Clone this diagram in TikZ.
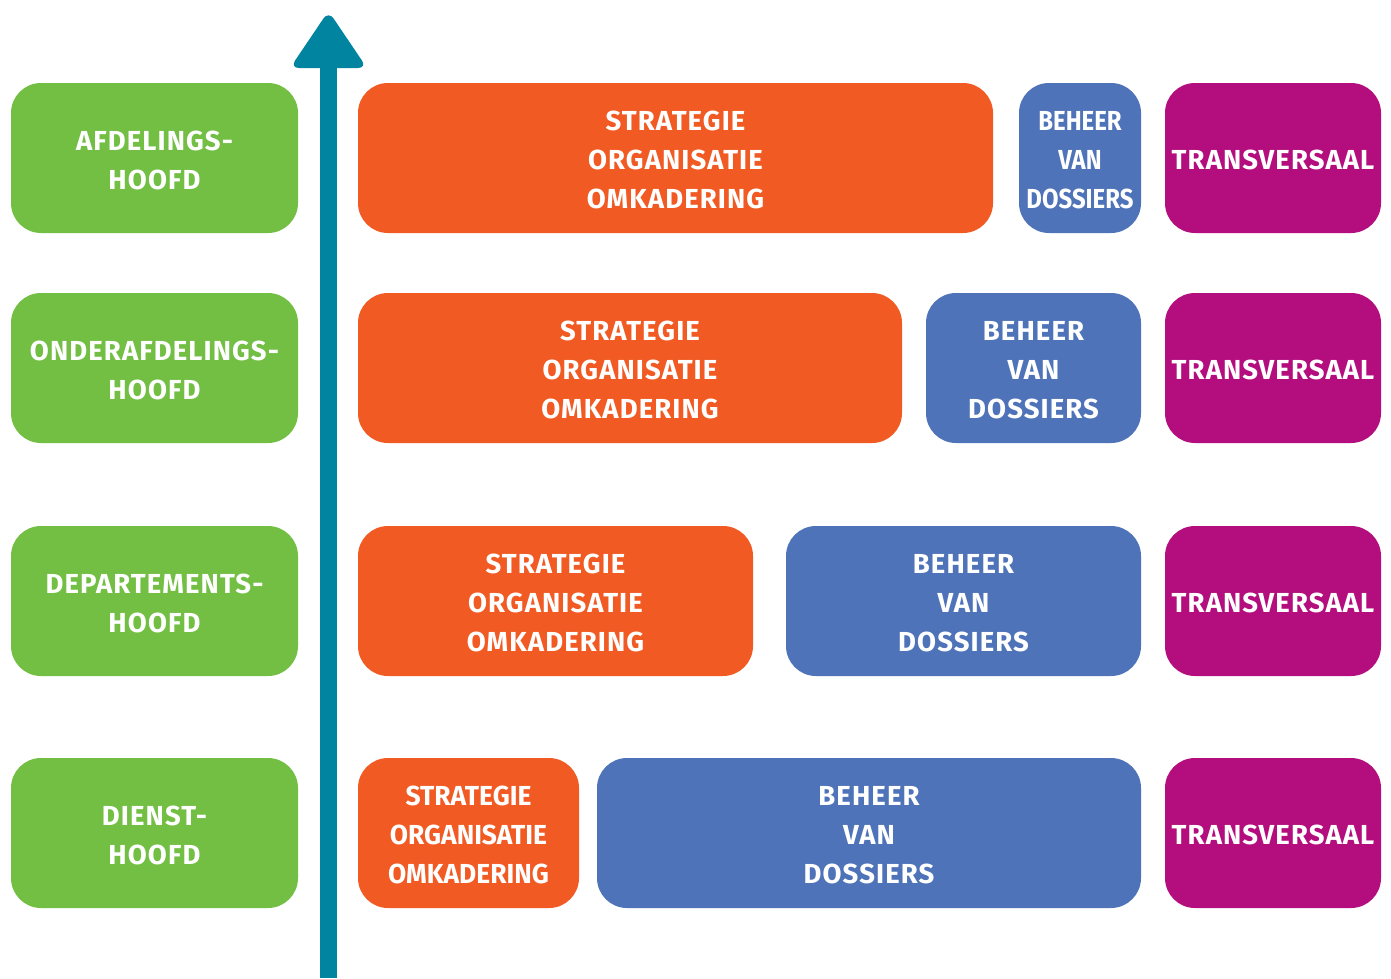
\documentclass[tikz,border=0pt]{standalone}
\usepackage{fontspec}
\setmainfont{Fira Sans}[LetterSpace=4]
\newfontfamily\condfont{Fira Sans}[LetterSpace=0]
\definecolor{cgreen}{HTML}{72BF44}
\definecolor{corange}{HTML}{F15A22}
\definecolor{cblue}{HTML}{4E73B8}
\definecolor{cpurple}{HTML}{B30D7E}
\definecolor{cteal}{HTML}{00849F}
\tikzset{
  tile/.style={rounded corners=30pt, inner sep=0pt},
  tiletext/.style={inner sep=0pt, align=center, text=white,
    font=\bfseries\fontsize{27.5}{39}\selectfont},
}
\newcommand{\tileat}[7]{%
  \node[tile, fill=#6, minimum width={#4-#2}, minimum height={#5-#3}]
    (#1) at ({(#2+#4)/2},{(#3+#5)/2}) {};
  \node[tiletext] (#1t) at ([yshift=-2pt]#1.center) {#7};}
\newcommand{\cond}[1]{\scalebox{0.87}[1]{\condfont #1}}
\newcommand{\semicond}[1]{\scalebox{0.96}[1]{\condfont #1}}
\begin{document}
\begin{tikzpicture}[x=1pt,y=-1pt]
\useasboundingbox (0,0) rectangle (1391,978);
% arrow
\coordinate (abot) at (328.5,978);
\coordinate (atop) at (328.5,60);
\draw[cteal, line width=17pt] (abot) -- (atop);
\fill[cteal, rounded corners=9pt] (328.5,11) -- (367,68) -- (290,68) -- cycle;
% green
\tileat{g1}{11}{83}{298}{233}{cgreen}{AFDELINGS-\\HOOFD}
\tileat{g2}{11}{293}{298}{443}{cgreen}{ONDERAFDELINGS-\\HOOFD}
\tileat{g3}{11}{526}{298}{676}{cgreen}{DEPARTEMENTS-\\HOOFD}
\tileat{g4}{11}{758}{298}{908}{cgreen}{DIENST-\\HOOFD}
% row 1
\tileat{o1}{358}{83}{993}{233}{corange}{STRATEGIE\\ORGANISATIE\\OMKADERING}
\tileat{b1}{1019}{83}{1141}{233}{cblue}{\cond{BEHEER}\\\cond{VAN}\\\cond{DOSSIERS}}
\tileat{p1}{1165}{83}{1381}{233}{cpurple}{TRANSVERSAAL}
% row 2
\tileat{o2}{358}{293}{902}{443}{corange}{STRATEGIE\\ORGANISATIE\\OMKADERING}
\tileat{b2}{926}{293}{1141}{443}{cblue}{BEHEER\\VAN\\DOSSIERS}
\tileat{p2}{1165}{293}{1381}{443}{cpurple}{TRANSVERSAAL}
% row 3
\tileat{o3}{358}{526}{753}{676}{corange}{STRATEGIE\\ORGANISATIE\\OMKADERING}
\tileat{b3}{786}{526}{1141}{676}{cblue}{BEHEER\\VAN\\DOSSIERS}
\tileat{p3}{1165}{526}{1381}{676}{cpurple}{TRANSVERSAAL}
% row 4
\tileat{o4}{358}{758}{579}{908}{corange}{\semicond{STRATEGIE}\\\semicond{ORGANISATIE}\\\semicond{OMKADERING}}
\tileat{b4}{597}{758}{1141}{908}{cblue}{BEHEER\\VAN\\DOSSIERS}
\tileat{p4}{1165}{758}{1381}{908}{cpurple}{TRANSVERSAAL}
\end{tikzpicture}
\end{document}
